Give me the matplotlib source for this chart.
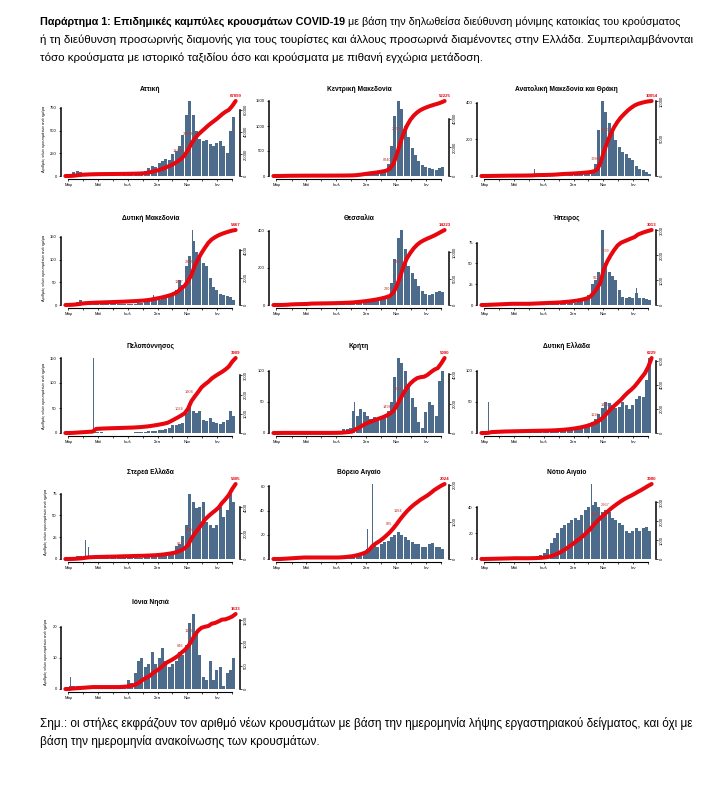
import numpy as np
import pandas as pd
import matplotlib
matplotlib.use("Agg")
import matplotlib.pyplot as plt
import matplotlib.dates as mdates
from matplotlib.ticker import MaxNLocator

W, H = 722, 802

week_start = pd.date_range("2020-02-24", periods=50, freq="7D")
month_ticks = pd.date_range("2020-03-01", "2021-02-01", freq="MS")
month_names = ["Μαρ", "Απρ", "Μαΐ", "Ιουν", "Ιουλ", "Αυγ",
               "Σεπ", "Οκτ", "Νοε", "Δεκ", "Ιαν", "Φεβ"]

regions = ["Αττική", "Κεντρική Μακεδονία", "Ανατολική Μακεδονία και Θράκη",
           "Δυτική Μακεδονία", "Θεσσαλία", "Ήπειρος",
           "Πελοπόννησος", "Κρήτη", "Δυτική Ελλάδα",
           "Στερεά Ελλάδα", "Βόρειο Αιγαίο", "Νότιο Αιγαίο",
           "Ιόνια Νησιά"]
totals = [67899, 52225, 10054, 5467, 14223, 3013, 3909, 5090, 6229, 5805, 2024, 3980, 1633]

# new cases per day, one value per week (weeks starting Mon 24/2/2020)
attiki = [3, 20, 45, 55, 40, 25, 20, 15, 12, 8, 5, 4, 4, 3, 4, 5, 5, 6, 8, 10,
          12, 15, 25, 60, 90, 110, 100, 140, 165, 190, 175, 240, 280, 325, 450,
          675, 825, 675, 500, 410, 390, 400, 350, 325, 360, 390, 325, 250, 500, 650]
k_makedonia = [0, 5, 10, 8, 6, 5, 4, 3, 2, 2, 1, 1, 1, 1, 1, 1, 2, 2, 2, 3,
               4, 6, 10, 25, 45, 60, 70, 60, 55, 60, 70, 80, 100, 250, 600,
               1200, 1500, 1350, 1000, 780, 560, 420, 310, 220, 180, 160, 140, 130, 160, 190]
amth = [0, 1, 2, 2, 2, 2, 2, 1, 1, 1, 1, 1, 1, 2, 3, 4, 3, 2, 2, 3,
        5, 8, 10, 8, 6, 6, 7, 8, 8, 10, 12, 15, 25, 65, 250,
        410, 350, 290, 250, 195, 160, 130, 120, 100, 85, 55, 37, 32, 24, 13]
d_makedonia = [1, 3, 5, 7, 10, 6, 4, 3, 3, 2, 2, 2, 2, 2, 2, 2, 2, 3, 3, 3,
               3, 4, 5, 6, 8, 10, 10, 12, 14, 16, 18, 25, 33, 55, 45,
               85, 108, 140, 116, 108, 93, 86, 59, 40, 33, 25, 21, 19, 17, 10]
thessalia = [0, 1, 3, 5, 12, 6, 4, 3, 3, 4, 8, 3, 2, 2, 2, 2, 3, 3, 4, 4,
             5, 6, 8, 10, 12, 14, 16, 18, 20, 22, 25, 30, 35, 46, 120,
             250, 360, 405, 305, 210, 175, 138, 100, 74, 61, 55, 61, 68, 74, 68]
ipeiros = [0, 1, 1, 1, 1, 1, 1, 1, 1, 0, 0, 0, 0, 0, 1, 1, 1, 1, 1, 1,
           1, 1, 1, 2, 2, 2, 3, 3, 4, 5, 6, 12, 25, 30, 40,
           90, 50, 40, 35, 30, 18, 10, 9, 10, 9, 14, 9, 8, 7, 6]
peloponnisos = [0, 1, 2, 2, 2, 2, 2, 2, 3, 2, 2, 1, 1, 1, 1, 1, 1, 1, 1, 1,
                2, 2, 3, 3, 4, 5, 5, 6, 6, 8, 10, 17, 17, 18, 20,
                41, 60, 44, 41, 44, 27, 24, 30, 22, 20, 19, 22, 27, 45, 34]
kriti = [0, 1, 1, 0, 0, 0, 0, 0, 0, 0, 0, 0, 0, 0, 0, 0, 0, 1, 1, 2,
         6, 6, 8, 35, 28, 39, 34, 28, 22, 25, 22, 22, 28, 36, 50,
         90, 120, 112, 100, 78, 56, 42, 17, 8, 34, 50, 45, 28, 84, 100]
d_ellada = [0, 2, 3, 2, 2, 2, 2, 1, 1, 1, 1, 1, 1, 1, 1, 1, 1, 1, 1, 1,
            2, 2, 3, 3, 4, 5, 6, 7, 8, 10, 12, 14, 18, 22, 30,
            40, 50, 48, 45, 40, 42, 50, 45, 38, 45, 55, 60, 58, 85, 120]
sterea = [0, 1, 2, 3, 4, 4, 3, 2, 2, 1, 1, 1, 1, 1, 1, 2, 1, 1, 1, 2,
          1, 1, 1, 2, 2, 2, 3, 4, 5, 6, 7, 8, 15, 17, 26,
          39, 75, 65, 58, 60, 65, 43, 39, 35, 39, 60, 48, 56, 78, 65]
v_aigaio = [0, 0, 1, 1, 1, 1, 1, 1, 1, 0, 0, 0, 0, 0, 0, 0, 0, 0, 0, 1,
            1, 2, 2, 3, 4, 5, 6, 8, 10, 12, 10, 12, 14, 15, 18,
            20, 22, 20, 18, 16, 14, 12, 12, 10, 10, 12, 13, 10, 10, 8]
n_aigaio = [0, 1, 1, 1, 1, 1, 1, 1, 1, 1, 0, 0, 0, 0, 1, 1, 2, 3, 5, 8,
            12, 16, 20, 24, 26, 28, 30, 32, 30, 34, 38, 40, 42, 44, 40,
            36, 38, 36, 32, 30, 28, 26, 22, 20, 22, 24, 22, 24, 25, 22]
ionia = [0, 1, 1, 1, 1, 1, 1, 1, 0, 0, 0, 0, 0, 0, 0, 0, 1, 1, 3, 2,
         5, 9, 10, 7, 8, 12, 8, 10, 13, 9, 7, 8, 9, 12, 11,
         14, 21, 24, 18, 11, 4, 3, 9, 3, 6, 7, 1, 5, 6, 10]

# single-day outliers (date, cases)
attiki_spikes = []
k_makedonia_spikes = []
amth_spikes = [("2020-06-13", 37)]
d_makedonia_spikes = [("2020-08-23", 23), ("2020-11-12", 165)]
thessalia_spikes = [("2020-05-09", 31)]
ipeiros_spikes = [("2021-01-08", 20)]
peloponnisos_spikes = [("2020-04-22", 150), ("2020-09-24", 34), ("2020-11-04", 76)]
kriti_spikes = [("2020-08-08", 50)]
d_ellada_spikes = [("2020-03-10", 50)]
sterea_spikes = [("2020-04-05", 22), ("2020-04-12", 14), ("2020-11-04", 86)]
v_aigaio_spikes = [("2020-09-03", 25), ("2020-09-13", 62)]
n_aigaio_spikes = [("2020-10-08", 58)]
ionia_spikes = [("2020-03-05", 4)]

series = [attiki, k_makedonia, amth, d_makedonia, thessalia, ipeiros,
          peloponnisos, kriti, d_ellada, sterea, v_aigaio, n_aigaio, ionia]
spikes = [attiki_spikes, k_makedonia_spikes, amth_spikes, d_makedonia_spikes,
          thessalia_spikes, ipeiros_spikes, peloponnisos_spikes, kriti_spikes,
          d_ellada_spikes, sterea_spikes, v_aigaio_spikes, n_aigaio_spikes, ionia_spikes]

bar_color = "#4d6c8b"
line_color = "#e8070e"
panel_font = ["Liberation Sans", "DejaVu Sans"]
text_font = ["Liberation Sans", "DejaVu Sans"]

cols_px = [(61, 240), (269, 449), (477, 656)]
rows_px = [98, 227, 355, 481, 611]
box_h = 81


def px_box(x0, x1, top, h):
    return [x0 / W, 1 - (top + h) / H, (x1 - x0) / W, h / H]


def nice_ticks(top):
    ticks = MaxNLocator(nbins=4, steps=[1, 2, 2.5, 5, 10]).tick_values(0, top)
    return [t for t in ticks if 0 <= t <= top]


fig = plt.figure(figsize=(W / 100, H / 100), dpi=100)

xmin = mdates.date2num(pd.Timestamp("2020-02-15"))
xmax = mdates.date2num(pd.Timestamp("2021-02-17"))
wx = mdates.date2num(week_start)

for k, name in enumerate(regions):
    r, c = divmod(k, 3)
    x0, x1 = cols_px[c]
    ax = fig.add_axes(px_box(x0, x1, rows_px[r], box_h))

    vals = np.array(series[k], dtype=float)
    ax.bar(wx + 3.5, vals, width=6.2, color=bar_color, linewidth=0)
    sp_x = [mdates.date2num(pd.Timestamp(d)) for d, v in spikes[k]]
    sp_v = [v for d, v in spikes[k]]
    if sp_x:
        ax.bar(sp_x, sp_v, width=1.6, color=bar_color, linewidth=0)
    peak = max(vals.max(), max(sp_v, default=0))
    ax.set_ylim(-0.04 * peak, 1.04 * peak)
    ax.set_xlim(xmin, xmax)

    lt = nice_ticks(peak)
    ax.set_yticks(lt)
    ax.set_yticklabels([f"{t:g}" for t in lt], fontsize=3, family=panel_font)
    ax.set_xticks(mdates.date2num(month_ticks))
    ax.set_xticklabels([m if i % 2 == 0 else "" for i, m in enumerate(month_names)],
                       fontsize=3, family=panel_font)
    ax.tick_params(length=1.5, width=0.5, pad=1.5)
    for s in ["top", "right"]:
        ax.spines[s].set_visible(False)
    ax.spines["left"].set_bounds(0, lt[-1])
    ax.spines["bottom"].set_bounds(mdates.date2num(month_ticks[0]), mdates.date2num(month_ticks[-1]))
    ax.spines["left"].set_linewidth(1.1)
    ax.spines["bottom"].set_linewidth(0.8)
    ax.set_title(name, fontsize=4.8, fontweight="bold", family=panel_font, pad=5)
    if c == 0:
        ax.set_ylabel("Αριθμός νέων κρουσμάτων ανά ημέρα", fontsize=2.8,
                      family=panel_font, labelpad=3)

    # cumulative cases on the right axis
    weekly_total = vals * 7
    for d, v in spikes[k]:
        weekly_total[(pd.Timestamp(d) - week_start[0]).days // 7] += v
    cum = np.concatenate([[0], np.cumsum(weekly_total)])
    cum = cum * totals[k] / cum[-1]
    cx = np.concatenate([[wx[0]], wx + 7])

    ax2 = ax.twinx()
    ax2.plot(cx, cum, color=line_color, lw=2.9, solid_capstyle="round",
             solid_joinstyle="round")
    ax2.set_ylim(-0.04 * totals[k], 1.04 * totals[k])
    rt = nice_ticks(totals[k])
    ax2.set_yticks(rt)
    ax2.set_yticklabels([f"{t:g}" for t in rt], fontsize=3, family=panel_font,
                        rotation=90, va="center")
    ax2.tick_params(length=1.5, width=0.5, pad=1.5)
    for s in ["top", "left", "bottom"]:
        ax2.spines[s].set_visible(False)
    ax2.spines["right"].set_bounds(0, rt[-1])
    ax2.spines["right"].set_linewidth(1.1)

    for i in (34, 37):
        ax2.annotate(f"{cum[i + 1]:.0f}", (cx[i + 1], cum[i + 1]), xytext=(-1, 1.5),
                     textcoords="offset points", ha="right", va="bottom",
                     fontsize=2.8, color="#c0392b", family=panel_font)
    ax2.annotate(f"{totals[k]}", (cx[-1], cum[-1]), xytext=(0, 2),
                 textcoords="offset points", ha="center", va="bottom",
                 fontsize=3.2, color=line_color, fontweight="bold", family=panel_font)

# header and footnote
hdr_bold = "Παράρτημα 1: Επιδημικές καμπύλες κρουσμάτων COVID-19"
hdr_rest = " με βάση την δηλωθείσα διεύθυνση μόνιμης κατοικίας του κρούσματος"
hdr_2 = ("ή τη διεύθυνση προσωρινής διαμονής για τους τουρίστες και άλλους "
         "προσωρινά διαμένοντες στην Ελλάδα. Συμπεριλαμβάνονται")
hdr_3 = "τόσο κρούσματα με ιστορικό ταξιδίου όσο και κρούσματα με πιθανή εγχώρια μετάδοση."
note_1 = ("Σημ.: οι στήλες εκφράζουν τον αριθμό νέων κρουσμάτων με βάση την ημερομηνία "
          "λήψης εργαστηριακού δείγματος, και όχι με")
note_2 = "βάση την ημερομηνία ανακοίνωσης των κρουσμάτων."

renderer = fig.canvas.get_renderer()


def width_at(s, size, weight="normal"):
    p = fig.text(0, 0, s, fontsize=size, fontweight=weight, family=text_font)
    w = p.get_window_extent(renderer).width
    p.remove()
    return w


fs_hdr = 10 * 650 / width_at(hdr_2, 10)
fs_1 = 10 * 643 / (width_at(hdr_bold, 10, "bold") + width_at(hdr_rest, 10))
fs_note = 10 * 653 / width_at(note_1, 10)

t = fig.text(40 / W, 1 - 22 / H, hdr_bold, fontsize=fs_1, fontweight="bold",
             family=text_font, va="center")
bb = t.get_window_extent(renderer)
fig.text(bb.x1 / W, 1 - 22 / H, hdr_rest, fontsize=fs_1, family=text_font, va="center")
fig.text(40 / W, 1 - 40 / H, hdr_2, fontsize=fs_hdr, family=text_font, va="center")
fig.text(40 / W, 1 - 58 / H, hdr_3, fontsize=fs_hdr, family=text_font, va="center")
fig.text(40 / W, 1 - 723 / H, note_1, fontsize=fs_note, family=text_font, va="center")
fig.text(40 / W, 1 - 742 / H, note_2, fontsize=fs_note, family=text_font, va="center")

fig.savefig("out.png", dpi=100)
